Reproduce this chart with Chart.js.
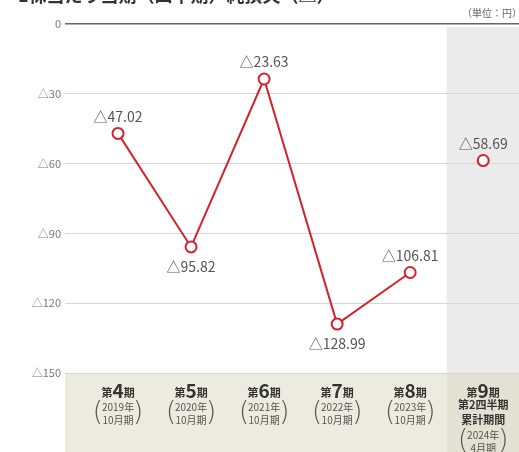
<!DOCTYPE html>
<html lang="ja">
<head>
<meta charset="utf-8">
<script src="https://cdn.jsdelivr.net/npm/chart.js@4/dist/chart.umd.min.js"></script>
<style>
  html, body { margin: 0; padding: 0; background: #fff; overflow: hidden; }
  #chart { display: block; }
</style>
</head>
<body>
<canvas id="chart" width="519" height="452"></canvas>
<script>
// 1株当たり当期(四半期)純損失(△) 単位:円
const periodNums = ['4', '5', '6', '7', '8', '9'];
const fiscalYears = ['2019年', '2020年', '2021年', '2022年', '2023年', '2024年'];
const fiscalMonths = ['10月期', '10月期', '10月期', '10月期', '10月期', '4月期'];
const annualLoss = [-47.02, -95.82, -23.63, -128.99, -106.81];   // 通期
const interimLoss = [-58.69];                                     // 第9期 第2四半期累計
const yTicks = [0, -30, -60, -90, -120, -150];

const RED = '#d2232c';
const JP = '"Noto Sans CJK JP", "Noto Sans", sans-serif';

function fmtLoss(v){
  return (v < 0 ? '△' : '') + Math.abs(v).toFixed(2);
}

const annualPts = annualLoss.map((v, i) => ({ x: i, y: v }));
const interimPts = interimLoss.map((v, i) => ({ x: annualLoss.length + i, y: v }));

const bgPlugin = {
  id: 'bg',
  beforeDraw(chart){
    const { ctx, chartArea: a, scales: { x } } = chart;
    const split = x.getPixelForValue(annualLoss.length - 0.5);
    ctx.save();
    // 第9期の列
    ctx.fillStyle = '#ebebeb';
    ctx.fillRect(split, a.top + 3, a.right - split, a.bottom - a.top - 3);
    // 下の帯
    ctx.fillStyle = '#ecebdf';
    ctx.fillRect(a.left, a.bottom, split - a.left, chart.height - a.bottom);
    ctx.fillStyle = '#e3e1d3';
    ctx.fillRect(split, a.bottom, a.right - split, chart.height - a.bottom);
    ctx.restore();
  },
  afterDraw(chart){
    const { ctx, chartArea: a, scales: { x, y } } = chart;
    ctx.save();

    // 見出し(上端で切れている)
    ctx.fillStyle = '#333';
    ctx.font = 'bold 18px ' + JP;
    ctx.textAlign = 'left';
    ctx.textBaseline = 'alphabetic';
    ctx.fillText('1株当たり当期（四半期）純損失（△）', 18, 2);

    // 単位
    ctx.fillStyle = '#666';
    ctx.font = '10px ' + JP;
    ctx.textAlign = 'right';
    ctx.textBaseline = 'middle';
    ctx.fillText('（単位：円）', 522, 13);

    // y軸ラベル
    ctx.fillStyle = '#777';
    ctx.font = '11px ' + JP;
    ctx.textAlign = 'right';
    yTicks.forEach(t => {
      ctx.fillText(t === 0 ? '0' : '△' + Math.abs(t), a.left - 4, y.getPixelForValue(t));
    });

    // カテゴリラベル
    periodNums.forEach((n, i) => {
      const cx = x.getPixelForValue(i);
      ctx.fillStyle = '#333';
      ctx.textBaseline = 'alphabetic';
      ctx.font = 'bold 11px ' + JP;
      const wS = ctx.measureText('第').width;
      ctx.font = 'bold 19px ' + JP;
      const wN = ctx.measureText(n).width;
      const total = wS * 2 + wN;
      let px = cx - total / 2;
      ctx.textAlign = 'left';
      ctx.font = 'bold 11px ' + JP;
      ctx.fillText('第', px, 397);
      ctx.font = 'bold 19px ' + JP;
      ctx.fillText(n, px + wS, 398);
      ctx.font = 'bold 11px ' + JP;
      ctx.fillText('期', px + wS + wN, 397);

      let lineY = 407;
      ctx.textAlign = 'center';
      ctx.textBaseline = 'middle';
      if (i === periodNums.length - 1){
        ctx.font = 'bold 11px ' + JP;
        ctx.fillText('第2四半期', cx, 405);
        ctx.fillText('累計期間', cx, 420);
        lineY = 435;
      }
      ctx.fillStyle = '#555';
      ctx.font = '10px ' + JP;
      const l1 = fiscalYears[i], l2 = fiscalMonths[i];
      ctx.fillText(l1, cx, lineY);
      ctx.fillText(l2, cx, lineY + 13);
      const w = Math.max(ctx.measureText(l1).width, ctx.measureText(l2).width);
      ctx.font = '200 26px "DejaVu Sans", sans-serif';
      ctx.fillText('(', cx - w / 2 - 4, lineY + 6);
      ctx.fillText(')', cx + w / 2 + 4, lineY + 6);
    });

    ctx.restore();
  },
  afterDatasetsDraw(chart){
    const { ctx, scales: { x, y } } = chart;
    ctx.save();
    ctx.fillStyle = '#555';
    ctx.font = '14px ' + JP;
    ctx.textAlign = 'center';
    ctx.textBaseline = 'middle';
    const all = [annualLoss, interimLoss];
    let idx = 0;
    all.forEach(series => {
      series.forEach((v, i) => {
        const prev = series[i - 1], next = series[i + 1];
        const below = (prev === undefined || v < prev) && (next === undefined || v < next) && series.length > 1;
        const px = x.getPixelForValue(idx);
        const py = y.getPixelForValue(v);
        ctx.fillText(fmtLoss(v), px, below ? py + 20 : py - 17);
        idx++;
      });
    });
    ctx.restore();
  }
};

new Chart(document.getElementById('chart'), {
  type: 'line',
  data: {
    datasets: [
      {
        label: '通期',
        data: annualPts,
        borderColor: RED,
        borderWidth: 2,
        pointBackgroundColor: '#fff',
        pointBorderColor: RED,
        pointBorderWidth: 2,
        pointRadius: 5.5,
        tension: 0
      },
      {
        label: '第2四半期累計',
        data: interimPts,
        showLine: false,
        borderColor: RED,
        pointBackgroundColor: '#fff',
        pointBorderColor: RED,
        pointBorderWidth: 2,
        pointRadius: 5.5
      }
    ]
  },
  options: {
    responsive: false,
    animation: false,
    layout: { autoPadding: false, padding: { left: 65, top: 24, bottom: 79, right: 0 } },
    plugins: { legend: { display: false }, tooltip: { enabled: false } },
    scales: {
      x: { type: 'linear', min: -0.726, max: 5.49, display: false },
      y: {
        min: -150,
        max: 0,
        ticks: { display: false, stepSize: 30 },
        border: { display: false },
        grid: {
          drawTicks: false,
          color: c => c.tick.value === 0 ? '#666' : '#d6d6d6',
          lineWidth: c => c.tick.value === 0 ? 1.5 : 1
        }
      }
    }
  },
  plugins: [bgPlugin]
});
</script>
</body>
</html>
